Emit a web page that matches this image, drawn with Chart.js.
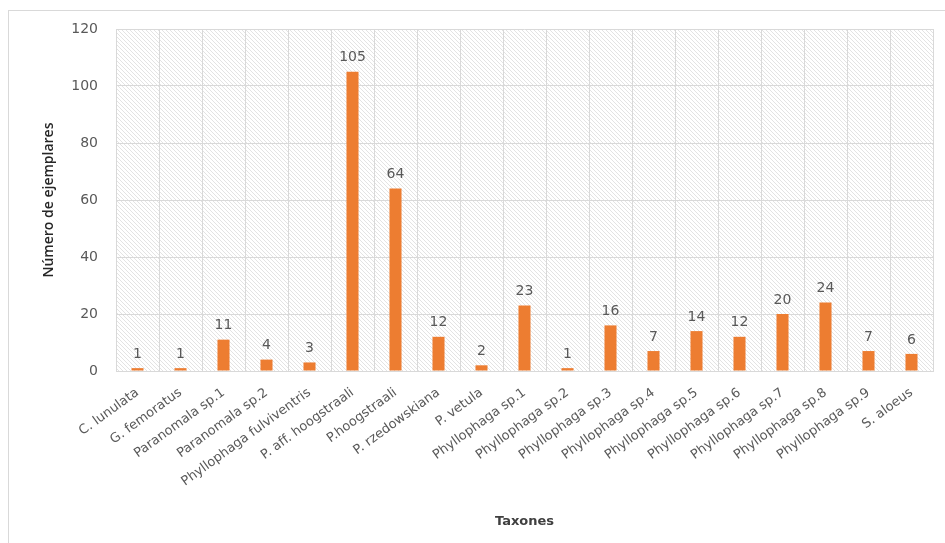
<!DOCTYPE html>
<html lang="es">
<head>
<meta charset="UTF-8" />
<title>Número de ejemplares por taxón</title>
<script src="https://cdn.jsdelivr.net/npm/chart.js"></script>
<style>
  html, body { margin: 0; padding: 0; background: #fff; }
  #wrap { position: relative; width: 945px; height: 543px; }
  #frame { position: absolute; left: 8px; top: 10px; width: 945px; height: 545px; border: 1px solid #d9d9d9; box-sizing: border-box; }
  canvas { position: absolute; left: 0; top: 0; }
</style>
</head>
<body>
<div id="wrap">
  <div id="frame"></div>
  <canvas id="chart" width="945" height="543"></canvas>
</div>
<script>
  const taxa = [
    'C. lunulata', 'G. femoratus', 'Paranomala sp.1', 'Paranomala sp.2',
    'Phyllophaga fulviventris', 'P. aff. hoogstraali', 'P.hoogstraali',
    'P. rzedowskiana', 'P. vetula', 'Phyllophaga sp.1', 'Phyllophaga sp.2',
    'Phyllophaga sp.3', 'Phyllophaga sp.4', 'Phyllophaga sp.5', 'Phyllophaga sp.6',
    'Phyllophaga sp.7', 'Phyllophaga sp.8', 'Phyllophaga sp.9', 'S. aloeus'
  ];
  const counts = [1, 1, 11, 4, 3, 105, 64, 12, 2, 23, 1, 16, 7, 14, 12, 20, 24, 7, 6];
  const yTicks = [0, 20, 40, 60, 80, 100, 120];

  const FONT = "'DejaVu Sans', sans-serif";
  const GREY = '#595959';

  // diagonal hatch behind the plot area
  function makeHatch() {
    const c = document.createElement('canvas');
    c.width = 4; c.height = 4;
    const g = c.getContext('2d');
    g.strokeStyle = '#e3e3e3';
    g.lineWidth = 1;
    g.beginPath();
    g.moveTo(-1, -1); g.lineTo(5, 5);
    g.moveTo(-1, 3); g.lineTo(1, 5);
    g.moveTo(3, -1); g.lineTo(5, 1);
    g.stroke();
    return c;
  }

  const hatchBg = {
    id: 'hatchBg',
    beforeDraw(chart) {
      const { ctx, chartArea: a } = chart;
      ctx.save();
      ctx.fillStyle = ctx.createPattern(makeHatch(), 'repeat');
      ctx.fillRect(a.left, a.top, a.right - a.left, a.bottom - a.top);
      ctx.restore();
    }
  };

  const valueLabels = {
    id: 'valueLabels',
    afterDatasetsDraw(chart) {
      const { ctx } = chart;
      const meta = chart.getDatasetMeta(0);
      ctx.save();
      ctx.font = '14px ' + FONT;
      ctx.fillStyle = GREY;
      ctx.textAlign = 'center';
      ctx.textBaseline = 'bottom';
      meta.data.forEach((bar, i) => {
        ctx.fillText(String(counts[i]), bar.x, bar.y - 7);
      });
      ctx.restore();
    }
  };

  new Chart(document.getElementById('chart'), {
    type: 'bar',
    data: {
      labels: taxa,
      datasets: [{
        data: counts,
        backgroundColor: '#ED7D31',
        barPercentage: 0.28,
        categoryPercentage: 1
      }]
    },
    options: {
      responsive: false,
      animation: false,
      layout: { padding: { left: 0, right: 12, top: 29, bottom: 0 } },
      plugins: { legend: { display: false }, tooltip: { enabled: false } },
      scales: {
        x: {
          grid: { color: '#d9d9d9', offset: true, drawTicks: false },
          border: { color: '#d9d9d9' },
          ticks: {
            color: GREY, font: { size: 13, family: FONT },
            minRotation: 36, maxRotation: 36, padding: 14, autoSkip: false
          },
          title: {
            display: true, text: 'Taxones', color: '#404040',
            font: { size: 13, weight: 'bold', family: FONT },
            padding: { top: 0, bottom: 14 }
          },
          afterFit(s) { s.height = 172; }
        },
        y: {
          min: 0, max: 120,
          afterBuildTicks(s) { s.ticks = yTicks.map(v => ({ value: v })); },
          grid: { color: '#d9d9d9', drawTicks: false },
          border: { display: false },
          ticks: { color: GREY, font: { size: 14, family: FONT }, padding: 18 },
          title: {
            display: true, text: 'Número de ejemplares', color: '#262626',
            font: { size: 14, weight: '600', family: "'Open Sans', sans-serif" },
            padding: { top: 41, bottom: 0 }
          },
          afterFit(s) { s.width = 116; }
        }
      }
    },
    plugins: [hatchBg, valueLabels]
  });
</script>
</body>
</html>
